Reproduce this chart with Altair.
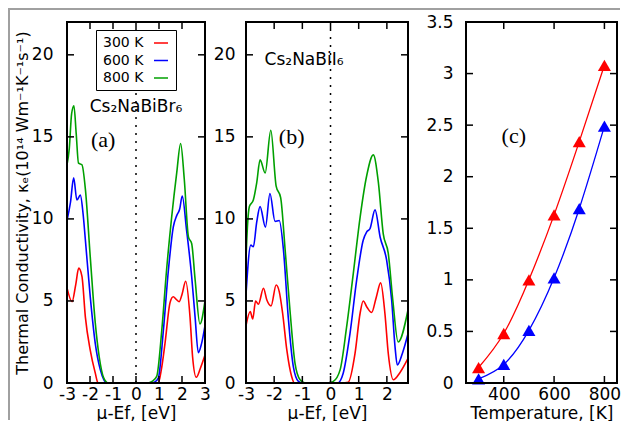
import altair as alt
import pandas as pd

FONT = "DejaVu Sans"
SERIF = "Liberation Serif"
RED, BLUE, GREEN = "#ff0000", "#0000ff", "#00a000"
GRAY = "#a0a0a0"
TICK = 7

temps = ["300 K", "600 K", "800 K"]
materials = ["Cs₂NaBiBr₆", "Cs₂NaBiI₆"]

# ---------------- panel (a): Cs2NaBiBr6 ----------------
a300_x = [-3.0, -2.78, -2.62, -2.49, -2.35, -2.2, -1.99, -1.77, -1.65, 0.8, 0.97, 1.1, 1.26, 1.48, 1.62, 1.75, 1.88, 2.0, 2.16, 2.35, 2.46, 2.62, 2.8, 3.0]
a300_y = [5.8, 4.96, 6.0, 7.0, 6.5, 4.0, 2.0, 0.6, 0.0, 0.0, 0.0, 0.8, 2.4, 4.9, 5.26, 5.1, 4.96, 5.4, 6.2, 4.0, 1.6, 0.35, 0.9, 1.7]
a600_x = [-3.0, -2.85, -2.71, -2.57, -2.42, -2.3, -2.2, -1.99, -1.77, -1.55, -1.4, -1.3, 0.6, 0.8, 0.97, 1.19, 1.41, 1.62, 1.77, 1.9, 2.01, 2.2, 2.42, 2.57, 2.71, 2.85, 3.0]
a600_y = [9.9, 11.0, 12.5, 11.15, 11.45, 10.3, 8.7, 5.26, 2.4, 0.8, 0.2, 0.0, 0.0, 0.05, 0.3, 3.2, 6.9, 9.5, 10.2, 10.6, 11.4, 9.3, 6.5, 4.0, 1.85, 2.4, 3.5]
a800_x = [-3.0, -2.9, -2.8, -2.7, -2.6, -2.5, -2.35, -2.2, -1.99, -1.77, -1.6, -1.4, -1.2, 0.5, 0.7, 0.9, 1.12, 1.33, 1.55, 1.77, 1.94, 2.1, 2.28, 2.42, 2.57, 2.78, 3.0]
a800_y = [13.3, 14.3, 16.4, 16.9, 15.2, 13.4, 13.3, 11.8, 7.7, 3.65, 1.6, 0.3, 0.0, 0.0, 0.1, 0.4, 3.2, 6.9, 10.1, 12.8, 14.6, 12.4, 8.9, 8.5, 6.3, 3.6, 5.0]

# ---------------- panel (b): Cs2NaBiI6 ----------------
b300_x = [-3.0, -2.85, -2.76, -2.66, -2.56, -2.38, -2.26, -2.11, -1.93, -1.82, -1.7, -1.55, -1.38, -1.28, 0.4, 0.63, 0.87, 1.05, 1.16, 1.3, 1.46, 1.62, 1.78, 1.93, 2.05, 2.23, 2.45, 2.75]
b300_y = [3.5, 4.35, 3.9, 5.0, 4.8, 5.77, 5.06, 4.7, 5.97, 5.57, 4.25, 2.0, 0.4, 0.0, 0.0, 0.05, 1.8, 4.25, 5.0, 4.6, 4.3, 5.2, 6.1, 4.25, 1.8, 0.2, 0.6, 1.5]
b600_x = [-3.0, -2.83, -2.74, -2.62, -2.5, -2.31, -2.15, -1.97, -1.82, -1.67, -1.5, -1.32, -1.14, -1.0, 0.25, 0.45, 0.69, 0.93, 1.16, 1.28, 1.4, 1.58, 1.76, 1.99, 2.17, 2.29, 2.37, 2.55, 2.75]
b600_y = [5.4, 8.4, 8.3, 9.8, 10.75, 9.5, 11.55, 9.85, 9.9, 8.1, 4.0, 1.0, 0.1, 0.0, 0.0, 0.6, 3.0, 6.3, 8.7, 9.2, 9.4, 10.55, 8.9, 7.5, 5.06, 2.2, 1.1, 1.8, 3.0]
b800_x = [-3.0, -2.95, -2.88, -2.74, -2.62, -2.5, -2.32, -2.12, -1.93, -1.77, -1.61, -1.44, -1.26, -1.08, -0.9, -0.1, 0.1, 0.34, 0.57, 0.81, 1.05, 1.28, 1.52, 1.7, 1.87, 2.05, 2.21, 2.4, 2.75]
b800_y = [7.6, 9.5, 10.75, 11.15, 12.2, 13.6, 12.8, 15.4, 12.0, 11.3, 8.1, 4.45, 1.2, 0.2, 0.0, 0.0, 0.1, 0.8, 3.4, 6.7, 10.1, 12.6, 13.9, 12.2, 9.1, 7.9, 5.06, 2.5, 4.45]

# ---------------- panel (c): kappa_e vs temperature ----------------
c_temp = [300, 400, 500, 600, 700, 800]
c_br = [0.15, 0.48, 1.0, 1.63, 2.34, 3.08]
c_i = [0.04, 0.18, 0.51, 1.02, 1.69, 2.49]

y_ticks_ab = [0, 5, 10, 15, 20]
x_ticks_a = [-3, -2, -1, 0, 1, 2, 3]
x_ticks_b = [-3, -2, -1, 0, 1, 2]
x_ticks_c = [400, 600, 800]
y_ticks_c = [0, 0.5, 1, 1.5, 2, 2.5, 3, 3.5]

y_title = "Thermal Conductivity, κₑ(10¹⁴ Wm⁻¹K⁻¹s⁻¹)"

# layout (pixels inside the single shared plot area)
W, H = 550, 361
PA, PB, PC = (0, 138), (179, 341), (399, 550)


def long_df(pairs):
    rows = []
    for name, xs, ys in pairs:
        for x, y in zip(xs, ys):
            rows.append({"x": x, "y": y, "T": name})
    return pd.DataFrame(rows)


df_a = long_df([("300 K", a300_x, a300_y), ("600 K", a600_x, a600_y), ("800 K", a800_x, a800_y)])
df_b = long_df([("300 K", b300_x, b300_y), ("600 K", b600_x, b600_y), ("800 K", b800_x, b800_y)])
df_c = pd.DataFrame({
    "temp": c_temp * 2,
    "k": c_br + c_i,
    "mat": [materials[0]] * len(c_temp) + [materials[1]] * len(c_temp),
})
one = pd.DataFrame({"v": [0]})


def ex(v):
    return alt.ExprRef(expr=str(v))


def axis(orient, values, title, pad, offset=0, title_pad=3, title_size=17):
    return alt.Axis(orient=orient, values=values, offset=offset, ticks=False, domain=False,
                    grid=False, labelFont=FONT, labelFontSize=17, labelColor="black",
                    labelPadding=pad, labelFlush=False, labelOverlap=False,
                    labelExpr="'' + datum.value", title=title, titleFont=FONT,
                    titleFontSize=title_size, titleFontWeight="normal", titleColor="black",
                    titlePadding=title_pad)


def tick_layers(xticks, yticks, xs, ys, px):
    tx = pd.DataFrame({"v": xticks})
    ty = pd.DataFrame({"v": yticks})
    out = []
    for yc in (H - TICK / 2, TICK / 2):
        out.append(alt.Chart(tx).mark_tick(orient="vertical", size=TICK, thickness=1.5,
                                           color="black", opacity=1).encode(
            x=alt.X("v:Q", scale=xs, axis=None), y=alt.value(yc)))
    for xc in (px[0] + TICK / 2, px[1] - TICK / 2):
        out.append(alt.Chart(ty).mark_tick(orient="horizontal", size=TICK, thickness=1.5,
                                           color="black", opacity=1).encode(
            y=alt.Y("v:Q", scale=ys, axis=None), x=alt.value(xc)))
    return out


def frame(xs, ys, xdom, ydom):
    return alt.Chart(one).mark_rect(fillOpacity=0, stroke="black", strokeWidth=2).encode(
        x=alt.X(datum=xdom[0], scale=xs, axis=None), x2=alt.X2(datum=xdom[1]),
        y=alt.Y(datum=ydom[0], scale=ys, axis=None), y2=alt.Y2(datum=ydom[1]))


def label(text, font, size, x, y, xs, ys):
    return alt.Chart(one).mark_text(text=text, font=font, fontSize=size, color="black",
                                    align="center", baseline="middle").encode(
        x=alt.X(datum=x, scale=xs, axis=None), y=alt.Y(datum=y, scale=ys, axis=None))


color_scale = alt.Scale(domain=temps, range=[RED, BLUE, GREEN])
legend_a = alt.Legend(orient="none", legendX=29, legendY=8, title=None, symbolType="stroke",
                      symbolSize=196, symbolStrokeWidth=1.5, symbolOffset=52,
                      labelOffset=ex(-66), labelFont=FONT, labelFontSize=14, labelColor="black",
                      strokeColor="black", fillColor="white", padding=5, rowPadding=2.5,
                      labelLimit=0)


def spectrum_panel(df, xdom, xticks, px, ypad, yoffset, ytitle, legend, name, name_x, name_y,
                   tag, tag_x, tag_y):
    ydom = [0, 22]
    xs = alt.Scale(domain=xdom, range=list(px), nice=False, zero=False)
    ys = alt.Scale(domain=ydom, nice=False, zero=False)
    lines = alt.Chart(df).mark_line(strokeWidth=1.6, interpolate="monotone").encode(
        x=alt.X("x:Q", scale=xs, axis=axis("bottom", xticks, "μ-Ef, [eV]", 3)),
        y=alt.Y("y:Q", scale=ys, axis=axis("left", y_ticks_ab, ytitle, ypad, offset=yoffset,
                                           title_pad=1, title_size=16)),
        color=alt.Color("T:N", scale=color_scale, legend=legend),
    )
    zero = alt.Chart(one).mark_rule(color="black", strokeWidth=1.5, strokeDash=[2, 6]).encode(
        x=alt.X(datum=0, scale=xs, axis=None), y=alt.Y(datum=0, scale=ys, axis=None),
        y2=alt.Y2(datum=22))
    layers = [zero, lines, label(name, FONT, 17, name_x, name_y, xs, ys),
              label(tag, SERIF, 22, tag_x, tag_y, xs, ys)]
    layers += tick_layers(xticks, y_ticks_ab, xs, ys, px)
    layers.append(frame(xs, ys, xdom, ydom))
    return layers


layers_a = spectrum_panel(df_a, [-3, 3], x_ticks_a, PA, 14, 0, y_title, legend_a,
                          "Cs₂NaBiBr₆", 0, 16.8, "(a)", -1.43, 14.8)
layers_b = spectrum_panel(df_b, [-3, 2.75], x_ticks_b, PB, 11, -PB[0], None, None,
                          "Cs₂NaBiI₆", -0.94, 19.7, "(b)", -1.38, 15.0)

# ---------------- panel (c) ----------------
xs_c = alt.Scale(domain=[250, 850], range=list(PC), nice=False, zero=False)
ys_c = alt.Scale(domain=[0, 3.5], nice=False, zero=False)
mat_scale = alt.Scale(domain=materials, range=[RED, BLUE])
legend_c = alt.Legend(orient="none", legendX=PC[0] + 12, legendY=8, title=None,
                      symbolType="triangle-up", symbolSize=170, symbolOffset=103,
                      labelAlign="right", labelOffset=ex(-29), labelFont=FONT,
                      labelFontSize=15, labelColor="black", strokeColor="black",
                      fillColor="white", padding=3, rowPadding=2, labelLimit=0)
c_lines = alt.Chart(df_c).mark_line(strokeWidth=1.3, interpolate="natural").encode(
    x=alt.X("temp:Q", scale=xs_c, axis=axis("bottom", x_ticks_c, "Temperature, [K]", 3)),
    y=alt.Y("k:Q", scale=ys_c, axis=axis("left", y_ticks_c, None, 13, offset=-PC[0])),
    stroke=alt.Stroke("mat:N", scale=mat_scale, legend=None),
)
c_pts = alt.Chart(df_c).mark_point(shape="triangle-up", filled=True, size=170, opacity=1).encode(
    x=alt.X("temp:Q", scale=xs_c, axis=None),
    y=alt.Y("k:Q", scale=ys_c, axis=None),
    fill=alt.Fill("mat:N", scale=mat_scale, legend=legend_c),
)
layers_c = [c_lines, c_pts, label("(c)", SERIF, 22, 440, 2.39, xs_c, ys_c)]
layers_c += tick_layers(x_ticks_c, y_ticks_c, xs_c, ys_c, PC)
layers_c.append(frame(xs_c, ys_c, [250, 850], [0, 3.5]))

# light gray border of the original figure (top and left edges)
gray_top = alt.Chart(one).mark_rect(color=GRAY).encode(
    x=alt.value(-59), x2=alt.value(553), y=alt.value(-14), y2=alt.value(-12))
gray_left = alt.Chart(one).mark_rect(color=GRAY).encode(
    x=alt.value(-59), x2=alt.value(-57), y=alt.value(-14), y2=alt.value(398))

chart = alt.layer(*layers_a, *layers_b, *layers_c, gray_top, gray_left).resolve_scale(
    x="independent", y="independent"
).resolve_axis(x="independent", y="independent").properties(
    width=W, height=H, padding={"left": 0, "top": 0, "right": 0, "bottom": 0}
).configure(font=FONT).configure_view(stroke="transparent", strokeWidth=0)

chart.save("out.html", embed_options={"renderer": "svg", "actions": False})
